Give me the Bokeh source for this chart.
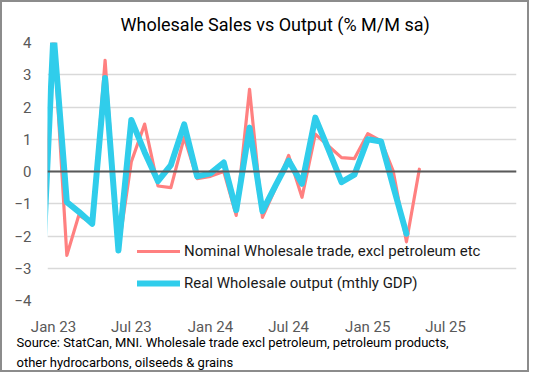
import pandas as pd
from bokeh.plotting import figure
from bokeh.models import Range1d, Span, Legend, LegendItem, FixedTicker, Title
from bokeh.embed import file_html
from bokeh.resources import INLINE

# ---- data ----
months = list(pd.date_range("2022-12-01", "2025-05-01", freq="MS"))
nominal = [-4.6, 4.3, -2.6, -1.35, -1.62, 3.45, -2.42, 0.3, 1.47, -0.45,
           -0.5, 1.06, -0.22, -0.15, 0.0, -1.36, 2.55, -1.42, -0.5, 0.5,
           -0.8, 1.16, 0.8, 0.43, 0.4, 1.17, 0.95, 0.02, -2.18, 0.07]
real = [-4.6, 4.3, -0.95, -1.25, -1.62, 2.9, -2.45, 1.6, 0.6, -0.3,
        0.2, 1.46, -0.15, -0.06, 0.28, -1.2, 1.36, -1.23, -0.42, 0.34,
        -0.38, 1.67, 0.7, -0.33, -0.1, 1.0, 0.93, -0.45, -1.93]
tick_dates = ["2023-01-01", "2023-07-01", "2024-01-01", "2024-07-01", "2025-01-01", "2025-07-01"]
tick_labels = ["Jan 23", "Jul 23", "Jan 24", "Jul 24", "Jan 25", "Jul 25"]
y_ticks = [-4, -3, -2, -1, 0, 1, 2, 3, 4]

title_text = "Wholesale Sales vs Output (% M/M sa)"
nominal_name = "Nominal Wholesale trade, excl petroleum etc"
real_name = "Real Wholesale output (mthly GDP)"
source_lines = ["Source: StatCan, MNI. Wholesale trade excl petroleum, petroleum products,",
                "other hydrocarbons, oilseeds & grains"]

FONT = "Roboto"

x_start = pd.Timestamp("2022-12-18")
x_end = pd.Timestamp("2025-12-13")

p = figure(width=529, height=372, x_axis_type="datetime",
           output_backend="svg", toolbar_location=None,
           x_range=Range1d(x_start, x_end), y_range=Range1d(-4, 4),
           min_border_left=45, min_border_right=15,
           min_border_top=40, min_border_bottom=74)
p.outline_line_color = None
p.background_fill_color = "white"
p.border_fill_color = "white"
p.styles = {"border": "2px solid #8c8c8c"}

# title
p.title.text = title_text
p.title.align = "left"
p.title.offset = 73
p.title.text_font = FONT
p.title.text_font_size = "18px"
p.title.text_font_style = "normal"
p.title.text_color = "#000000"
p.title.standoff = 16

# grid
p.xgrid.visible = False
p.ygrid.ticker = FixedTicker(ticks=y_ticks)
p.ygrid.grid_line_color = "#d9d9d9"
p.ygrid.grid_line_width = 1.4

# axes
tick_ms = [pd.Timestamp(d).value / 1e6 for d in tick_dates]
p.xaxis.ticker = FixedTicker(ticks=tick_ms)
p.xaxis.major_label_overrides = {t: l for t, l in zip(tick_ms, tick_labels)}
p.yaxis.ticker = FixedTicker(ticks=y_ticks)
for ax in (p.xaxis[0], p.yaxis[0]):
    ax.axis_line_color = None
    ax.major_tick_line_color = None
    ax.minor_tick_line_color = None
    ax.major_tick_out = 0
    ax.major_tick_in = 0
    ax.axis_label_standoff = 0
    ax.major_label_text_color = "#595959"
    ax.major_label_text_font = FONT
    ax.major_label_text_font_size = "15px"
p.yaxis.major_label_standoff = 16
p.xaxis.major_label_standoff = 17

zero = Span(location=0, dimension="width", line_color="#595959", line_width=1.8)
p.add_layout(zero)

r_nom = p.line(months, nominal, line_color="#FF8080", line_width=3.2,
               line_join="round", line_cap="round")
r_real = p.line(months[:len(real)], real, line_color="#30CDEB", line_width=6,
                line_join="round", line_cap="round")

legend = Legend(items=[LegendItem(label=nominal_name, renderers=[r_nom]),
                       LegendItem(label=real_name, renderers=[r_real])],
                location=(90, 7.5), padding=0, margin=0, spacing=12,
                glyph_width=43, glyph_height=20, label_height=20, label_standoff=4,
                background_fill_alpha=0, border_line_color=None,
                label_text_font=FONT, label_text_font_size="15px",
                label_text_color="#1a1a1a")
p.add_layout(legend)

src = Title(text="\n".join(source_lines), align="left", offset=-31, text_font=FONT,
            text_font_size="13px", text_font_style="normal", text_line_height=1.38,
            text_color="#000000", standoff=-12)
p.add_layout(src, "below")

open("out.html", "w").write(file_html(p, INLINE))
